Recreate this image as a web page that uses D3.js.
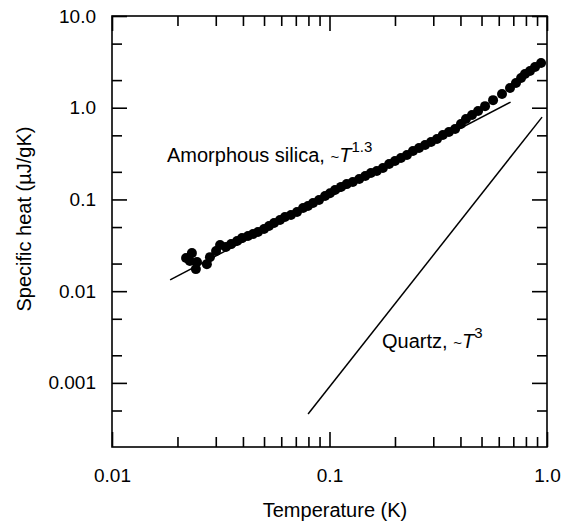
<!DOCTYPE html>
<html>
<head>
<meta charset="utf-8">
<script src="https://cdn.jsdelivr.net/npm/d3@7"></script>
<style>
  body { margin: 0; background: #fff; }
  svg text { font-family: "Liberation Sans", Arial, Helvetica, sans-serif; fill: #000; }
</style>
</head>
<body>
<div id="chart"></div>
<script>
// measured specific heat of amorphous silica (T in K, C in uJ/gK)
const silicaT = [0.0219, 0.0233, 0.0228, 0.0246, 0.0243, 0.0273, 0.0282, 0.0301, 0.0314, 0.0334,
  0.0353, 0.0376, 0.0396, 0.0422, 0.0445, 0.0469, 0.0500, 0.0527, 0.0556, 0.0592,
  0.0624, 0.0665, 0.0709, 0.0756, 0.0796, 0.0840, 0.0895, 0.0954, 0.1005, 0.106,
  0.113, 0.120, 0.128, 0.137, 0.146, 0.155, 0.165, 0.176, 0.188, 0.200,
  0.213, 0.227, 0.242, 0.258, 0.275, 0.293, 0.312, 0.332, 0.354, 0.378,
  0.402, 0.424, 0.452, 0.482, 0.519, 0.565, 0.621, 0.676, 0.720, 0.760,
  0.792, 0.835, 0.881, 0.939];
const silicaC = [0.0230, 0.0260, 0.0213, 0.0208, 0.0174, 0.0197, 0.0235, 0.0274, 0.0318, 0.0303,
  0.0326, 0.0352, 0.0379, 0.0399, 0.0420, 0.0441, 0.0476, 0.0513, 0.0553, 0.0596,
  0.0643, 0.0676, 0.0729, 0.0806, 0.0847, 0.0914, 0.0985, 0.109, 0.117, 0.127,
  0.137, 0.147, 0.155, 0.167, 0.180, 0.194, 0.204, 0.220, 0.243, 0.262,
  0.283, 0.305, 0.337, 0.364, 0.392, 0.423, 0.456, 0.504, 0.543, 0.586,
  0.664, 0.753, 0.833, 0.921, 1.04, 1.21, 1.41, 1.64, 1.86, 2.11,
  2.33, 2.51, 2.78, 3.07];

// guide lines: ~T^1.3 fit and ~T^3 quartz
const fitT = [0.0185, 0.68];
const fitC = [0.0133, 1.15];
const quartzT = [0.0797, 0.949];
const quartzC = [0.000457, 0.79];

const xMajor = [0.01, 0.1, 1];
const xLabels = ["0.01", "0.1", "1.0"];
const xMinor = [0.02, 0.03, 0.04, 0.05, 0.06, 0.07, 0.08, 0.09, 0.2, 0.3, 0.4, 0.5, 0.6, 0.7, 0.8, 0.9];
const yMajor = [0.001, 0.01, 0.1, 1, 10];
const yLabels = ["0.001", "0.01", "0.1", "1.0", "10.0"];
const yMinor = [0.0005, 0.002, 0.005, 0.02, 0.05, 0.2, 0.5, 2, 5];

const W = 572, H = 525;
const plotL = 112, plotR = 547, plotT = 16, plotB = 447;

const svg = d3.select("#chart").append("svg")
  .attr("width", W)
  .attr("height", H);

const x = d3.scaleLog().domain([0.01, 1]).range([plotL, plotR]);
const y = d3.scaleLog().domain([0.0002, 10]).range([plotB, plotT]);

// axes: major (long) and minor (short) ticks pointing inward on all four sides
function drawAxis(axisFn, pos, dim, minor, labels) {
  const sc = dim === "x" ? x : y;
  const g1 = svg.append("g").attr("transform", pos)
    .call(axisFn(sc)
      .tickValues(dim === "x" ? xMajor : yMajor)
      .tickSize(-15)
      .tickPadding(labels ? (dim === "x" ? 22 : 16) : 0)
      .tickFormat((d, i) => labels ? labels[i] : ""));
  const g2 = svg.append("g").attr("transform", pos)
    .call(axisFn(sc)
      .tickValues(minor)
      .tickSize(-10)
      .tickFormat(""));
  [g1, g2].forEach(g => {
    g.select(".domain").remove();
    g.selectAll("line").attr("stroke", "#000").attr("stroke-width", 1.6);
  });
  g1.attr("font-family", null).attr("font-size", "19px");
}

drawAxis(d3.axisBottom, `translate(0,${plotB})`, "x", xMinor, xLabels);
drawAxis(d3.axisTop, `translate(0,${plotT})`, "x", xMinor, null);
drawAxis(d3.axisLeft, `translate(${plotL},0)`, "y", yMinor, yLabels);
drawAxis(d3.axisRight, `translate(${plotR},0)`, "y", yMinor, null);

svg.append("rect")
  .attr("x", plotL).attr("y", plotT)
  .attr("width", plotR - plotL).attr("height", plotB - plotT)
  .attr("fill", "none")
  .attr("stroke", "#000")
  .attr("stroke-width", 1.6);

const line = d3.line().x(d => x(d[0])).y(d => y(d[1]));

svg.append("path")
  .attr("d", line(d3.zip(fitT, fitC)))
  .attr("fill", "none").attr("stroke", "#000").attr("stroke-width", 1.5);

svg.append("path")
  .attr("d", line(d3.zip(quartzT, quartzC)))
  .attr("fill", "none").attr("stroke", "#000").attr("stroke-width", 1.5);

svg.selectAll("circle.pt")
  .data(d3.zip(silicaT, silicaC))
  .join("circle")
  .attr("class", "pt")
  .attr("cx", d => x(d[0]))
  .attr("cy", d => y(d[1]))
  .attr("r", 5)
  .attr("fill", "#000");

// annotations
const a1 = svg.append("text").attr("x", 167).attr("y", 162).attr("font-size", "20px");
a1.append("tspan").text("Amorphous silica, ");
a1.append("tspan").attr("font-size", "15px").text("~");
a1.append("tspan").attr("font-style", "italic").text("T");
a1.append("tspan").attr("font-size", "15px").attr("dy", -10).text("1.3");

const a2 = svg.append("text").attr("x", 382).attr("y", 348).attr("font-size", "20px");
a2.append("tspan").text("Quartz, ");
a2.append("tspan").attr("font-size", "15px").text("~");
a2.append("tspan").attr("font-style", "italic").text("T");
a2.append("tspan").attr("font-size", "15px").attr("dy", -10).text("3");

// axis titles
svg.append("text")
  .attr("x", 335).attr("y", 517)
  .attr("text-anchor", "middle")
  .attr("font-size", "20px")
  .text("Temperature (K)");

svg.append("text")
  .attr("transform", "translate(31,219) rotate(-90)")
  .attr("text-anchor", "middle")
  .attr("font-size", "20px")
  .text("Specific heat (µJ/gK)");
</script>
</body>
</html>
